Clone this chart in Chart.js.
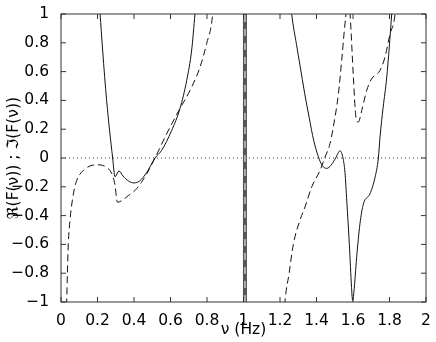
<!DOCTYPE html>
<html>
<head>
<meta charset="utf-8">
<script src="https://cdn.jsdelivr.net/npm/chart.js@4"></script>
<style>
  html, body { margin: 0; padding: 0; background: #fff; }
  #wrap { width: 436px; height: 342px; }
</style>
</head>
<body>
<div id="wrap"><canvas id="resp-chart" width="436" height="342"></canvas></div>
<script>
// solid curve, null breaks where it leaves the plot
const solidX = [0.207, 0.214, 0.228, 0.25, 0.283, 0.296, 0.318, 0.34, 0.37, 0.40, 0.43, 0.47, 0.515, 0.55, 0.606, 0.652, 0.689, 0.716, 0.734, 0.742,
  1.0,
  1.258, 1.264, 1.29, 1.31, 1.335, 1.36, 1.385, 1.41, 1.43, 1.456, 1.48, 1.505, 1.529, 1.545, 1.556, 1.566, 1.58, 1.592, 1.598, 1.605, 1.62, 1.638, 1.657, 1.693, 1.721, 1.739, 1.748, 1.765, 1.785, 1.812, 1.817];
const solidY = [1.1, 1.0, 0.75, 0.4, 0.0, -0.13, -0.09, -0.125, -0.16, -0.173, -0.16, -0.10, 0.0, 0.05, 0.19, 0.344, 0.54, 0.75, 1.0, 1.12,
  null,
  1.08, 1.0, 0.79, 0.64, 0.45, 0.28, 0.12, 0.01, -0.05, -0.072, -0.05, 0.0, 0.05, 0.0, -0.1, -0.3, -0.6, -0.9, -0.99, -0.93, -0.69, -0.458, -0.319, -0.249, -0.133, 0.0, 0.145, 0.35, 0.562, 1.0, 1.1];

// dashed curve
const dashX = [0.028, 0.031, 0.035, 0.040, 0.049, 0.068, 0.086, 0.122, 0.16, 0.2, 0.225, 0.25, 0.268, 0.285, 0.296, 0.309, 0.333, 0.37, 0.405, 0.44, 0.47, 0.515, 0.579, 0.652, 0.707, 0.762, 0.798, 0.831, 0.836,
  1.0,
  1.222, 1.227, 1.25, 1.273, 1.31, 1.337, 1.374, 1.419, 1.445, 1.474, 1.492, 1.52, 1.538, 1.556, 1.562, 1.573, 1.584, 1.602, 1.616, 1.629, 1.648, 1.675, 1.702, 1.748, 1.775, 1.803, 1.83, 1.835];
const dashY = [-1.1, -1.0, -0.805, -0.597, -0.435, -0.249, -0.156, -0.087, -0.055, -0.047, -0.05, -0.065, -0.087, -0.13, -0.19, -0.307, -0.296, -0.26, -0.226, -0.17, -0.11, 0.0, 0.168, 0.344, 0.469, 0.632, 0.795, 1.0, 1.1,
  null,
  -1.1, -1.0, -0.8, -0.6, -0.43, -0.34, -0.2, -0.087, 0.0, 0.1, 0.214, 0.446, 0.678, 0.933, 1.0, 1.15, 1.0, 0.562, 0.284, 0.249, 0.33, 0.469, 0.55, 0.608, 0.70, 0.863, 1.0, 1.1];

// resonance band and zero line
const bandX = [1.008, 1.008];
const bandY = [-1, 1];
const zeroX = [0, 2];
const zeroY = [0, 0];

const xTickValues = [0, 0.2, 0.4, 0.6, 0.8, 1, 1.2, 1.4, 1.6, 1.8, 2];
const xTickLabels = ['0', '0.2', '0.4', '0.6', '0.8', '1', '1.2', '1.4', '1.6', '1.8', '2'];
const yTickValues = [-1, -0.8, -0.6, -0.4, -0.2, 0, 0.2, 0.4, 0.6, 0.8, 1];
const yTickLabels = ['\u22121', '\u22120.8', '\u22120.6', '\u22120.4', '\u22120.2', '0', '0.2', '0.4', '0.6', '0.8', '1'];

const toPts = (xs, ys) => xs.map((x, i) => ({ x: x, y: ys[i] }));
const FONT = { family: '"DejaVu Sans", "Liberation Sans", sans-serif', size: 15.5 };

// matlab-ish box with inward ticks on all four sides
const boxPlugin = {
  id: 'box',
  afterDatasetsDraw(chart) {
    const { ctx, chartArea: a, scales } = chart;
    ctx.save();
    ctx.strokeStyle = '#333';
    ctx.lineWidth = 1;
    ctx.strokeRect(a.left, a.top, a.right - a.left, a.bottom - a.top);
    ctx.beginPath();
    const len = 5;
    xTickValues.forEach(v => {
      const px = scales.x.getPixelForValue(v);
      ctx.moveTo(px, a.bottom); ctx.lineTo(px, a.bottom - len);
      ctx.moveTo(px, a.top); ctx.lineTo(px, a.top + len);
    });
    yTickValues.forEach(v => {
      const py = scales.y.getPixelForValue(v);
      ctx.moveTo(a.left, py); ctx.lineTo(a.left + len, py);
      ctx.moveTo(a.right, py); ctx.lineTo(a.right - len, py);
    });
    ctx.stroke();
    ctx.restore();
  }
};

new Chart(document.getElementById('resp-chart'), {
  type: 'line',
  data: {
    datasets: [
      { data: toPts(solidX, solidY), borderColor: '#111', borderWidth: 1, cubicInterpolationMode: 'monotone' },
      { data: toPts(dashX, dashY), borderColor: '#111', borderWidth: 1, borderDash: [7, 4], cubicInterpolationMode: 'monotone' },
      { data: toPts(bandX, bandY), borderColor: '#c8c8c8', borderWidth: 1.5, borderDash: [7, 7] },
      { data: toPts(bandX, bandY), borderColor: '#555', borderWidth: 4 },
      { data: toPts(zeroX, zeroY), borderColor: '#444', borderWidth: 1, borderDash: [1, 3] }
    ]
  },
  options: {
    responsive: false,
    animation: false,
    spanGaps: false,
    elements: { point: { radius: 0 } },
    layout: { padding: { top: 14, right: 10, left: 0, bottom: 0 } },
    plugins: { legend: { display: false }, tooltip: { enabled: false } },
    scales: {
      x: {
        type: 'linear', min: 0, max: 2,
        grid: { display: false }, border: { display: false },
        afterBuildTicks: s => { s.ticks = xTickValues.map(v => ({ value: v })); },
        afterFit: s => { s.height = 40; },
        ticks: { color: '#000', font: FONT, padding: 2, maxRotation: 0,
          callback: (v, i) => xTickLabels[i] },
        title: { display: true, text: '\u03bd (Hz)', color: '#000', font: FONT, padding: { top: 0, bottom: 3 } }
      },
      y: {
        type: 'linear', min: -1, max: 1,
        grid: { display: false }, border: { display: false },
        afterBuildTicks: s => { s.ticks = yTickValues.map(v => ({ value: v })); },
        afterFit: s => { s.width = 61; },
        ticks: { color: '#000', font: FONT, padding: 4,
          callback: (v, i) => yTickLabels[i] },
        title: { display: true, text: '\u211c(F(\u03bd)) ; \u2111(F(\u03bd))', color: '#000', font: FONT, padding: { top: 5, bottom: 0 } }
      }
    }
  },
  plugins: [boxPlugin]
});
</script>
</body>
</html>
